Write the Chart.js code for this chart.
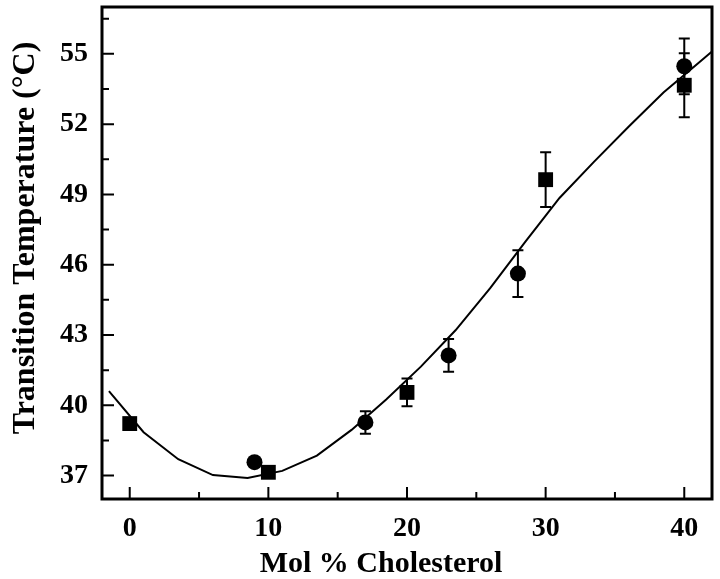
<!DOCTYPE html>
<html>
<head>
<meta charset="utf-8">
<script src="https://cdn.jsdelivr.net/npm/chart.js@4.4.1/dist/chart.umd.min.js"></script>
<style>
  html, body { margin: 0; padding: 0; background: #ffffff; }
  #wrap { width: 720px; height: 579px; position: relative; }
</style>
</head>
<body>
<div id="wrap"><canvas id="c"></canvas></div>
<script>
// ---- data ----
const xTicks = [0, 10, 20, 30, 40];
const yTicks = [37, 40, 43, 46, 49, 52, 55];

const squareX = [0, 10, 20, 30, 40];
const squareY = [39.22, 37.14, 40.55, 49.63, 53.66];
const squareErr = [0, 0, 0.59, 1.17, 1.37];

const circleX = [9, 17, 23, 28, 40];
const circleY = [37.57, 39.27, 42.13, 45.62, 54.47];
const circleErr = [0, 0.48, 0.70, 1.00, 1.19];

const fitX = [-1.5, 1.0, 3.5, 6.0, 8.5, 11, 13.5, 16, 18.5, 21, 23.5, 26, 28.5, 31, 33.5, 36, 38.5, 41, 42];
const fitY = [40.6, 38.85, 37.7, 37.02, 36.9, 37.2, 37.85, 38.95, 40.25, 41.65, 43.2, 45.0, 46.95, 48.85, 50.4, 51.9, 53.35, 54.6, 55.1];

const xTitle = 'Mol % Cholesterol';
const yTitle = 'Transition Temperature (°C)';

const toPts = (xs, ys) => xs.map((x, i) => ({ x: x, y: ys[i] }));

const FONT = '"Liberation Serif", "Times New Roman", serif';

// error bars drawn through the scales
const errorBars = {
  id: 'errorBars',
  afterDatasetsDraw(chart) {
    const ctx = chart.ctx;
    const xs = chart.scales.x, ys = chart.scales.y;
    ctx.save();
    ctx.strokeStyle = '#000';
    ctx.lineWidth = 2;
    chart.data.datasets.forEach(ds => {
      if (!ds.errors) return;
      ds.data.forEach((p, i) => {
        const e = ds.errors[i];
        if (!e) return;
        const px = xs.getPixelForValue(p.x);
        const y1 = ys.getPixelForValue(p.y + e);
        const y2 = ys.getPixelForValue(p.y - e);
        const cw = 5.5;
        ctx.beginPath();
        ctx.moveTo(px, y1); ctx.lineTo(px, y2);
        ctx.moveTo(px - cw, y1); ctx.lineTo(px + cw, y1);
        ctx.moveTo(px - cw, y2); ctx.lineTo(px + cw, y2);
        ctx.stroke();
      });
    });
    ctx.restore();
  }
};

// frame with inward major/minor ticks, and axis titles
const frame = {
  id: 'frame',
  afterDraw(chart) {
    const ctx = chart.ctx;
    const a = chart.chartArea;
    const xs = chart.scales.x, ys = chart.scales.y;
    ctx.save();
    ctx.strokeStyle = '#000';
    ctx.lineWidth = 2;
    ctx.beginPath();
    xTicks.forEach(v => {
      const px = xs.getPixelForValue(v);
      ctx.moveTo(px, a.bottom); ctx.lineTo(px, a.bottom - 12);
      const m = v + (xTicks[1] - xTicks[0]) / 2;
      if (m < xs.max) {
        const pm = xs.getPixelForValue(m);
        ctx.moveTo(pm, a.bottom); ctx.lineTo(pm, a.bottom - 7);
      }
    });
    yTicks.forEach(v => {
      const py = ys.getPixelForValue(v);
      ctx.moveTo(a.left, py); ctx.lineTo(a.left + 12, py);
      const m = v + (yTicks[1] - yTicks[0]) / 2;
      if (m < ys.max) {
        const pm = ys.getPixelForValue(m);
        ctx.moveTo(a.left, pm); ctx.lineTo(a.left + 7, pm);
      }
    });
    ctx.stroke();
    ctx.lineWidth = 3;
    ctx.strokeRect(a.left, a.top, a.right - a.left, a.bottom - a.top);

    // axis titles
    ctx.fillStyle = '#000';
    ctx.textAlign = 'center';
    ctx.textBaseline = 'alphabetic';
    ctx.font = 'bold 30px ' + FONT;
    ctx.fillText(xTitle, 381, 572);
    ctx.translate(34, 238);
    ctx.rotate(-Math.PI / 2);
    ctx.font = 'bold 32px ' + FONT;
    ctx.fillText(yTitle, 0, 0);
    ctx.restore();
  }
};

const noPad = s => { s.paddingTop = 0; s.paddingBottom = 0; s.paddingLeft = 0; s.paddingRight = 0; };

new Chart(document.getElementById('c'), {
  type: 'scatter',
  data: {
    datasets: [
      {
        label: 'fit',
        data: toPts(fitX, fitY),
        showLine: true,
        borderColor: '#000',
        borderWidth: 2,
        pointRadius: 0,
        tension: 0,
        fill: false
      },
      {
        label: 'squares',
        data: toPts(squareX, squareY),
        errors: squareErr,
        pointStyle: 'rect',
        pointRadius: 10.5,
        backgroundColor: '#000',
        borderColor: '#000',
        borderWidth: 0
      },
      {
        label: 'circles',
        data: toPts(circleX, circleY),
        errors: circleErr,
        pointStyle: 'circle',
        pointRadius: 8,
        backgroundColor: '#000',
        borderColor: '#000',
        borderWidth: 0
      }
    ]
  },
  options: {
    responsive: true,
    maintainAspectRatio: false,
    animation: false,
    layout: { autoPadding: false, padding: { top: 7, right: 8, left: 0, bottom: 0 } },
    plugins: { legend: { display: false }, tooltip: { enabled: false } },
    scales: {
      x: {
        type: 'linear',
        min: -2, max: 42,
        afterBuildTicks: s => { s.ticks = xTicks.map(v => ({ value: v })); },
        afterFit: s => { s.height = 80; noPad(s); },
        grid: { display: false, drawTicks: false },
        border: { display: false },
        ticks: { color: '#000', padding: 13, font: { family: FONT, size: 28, weight: 'bold' } },
        title: { display: false }
      },
      y: {
        type: 'linear',
        min: 36, max: 57,
        afterBuildTicks: s => { s.ticks = yTicks.map(v => ({ value: v })); },
        afterFit: s => { s.width = 102; noPad(s); },
        grid: { display: false, drawTicks: false },
        border: { display: false },
        ticks: { color: '#000', padding: 14, font: { family: FONT, size: 28, weight: 'bold' } },
        title: { display: false }
      }
    }
  },
  plugins: [errorBars, frame]
});
</script>
</body>
</html>
